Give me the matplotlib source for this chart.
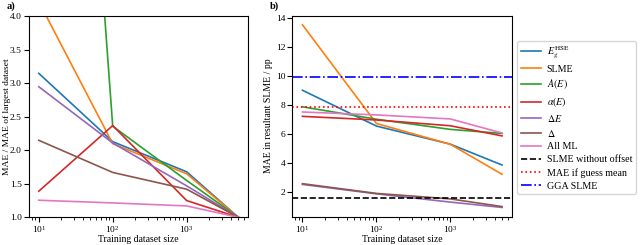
import matplotlib
matplotlib.use("Agg")
import matplotlib.pyplot as plt

plt.rcParams['font.family'] = ['Liberation Serif', 'DejaVu Serif']
plt.rcParams['mathtext.fontset'] = 'stix'
plt.rcParams['font.size'] = 7

sizes = [10, 100, 1000, 5000]
labels = [r'$E_g^{\rm HSE}$', 'SLME', r'$A(E)$', r'$\alpha(E)$',
          r'$\Delta E$', r'$\Delta$', 'All ML']
colors = ['tab:blue', 'tab:orange', 'tab:green', 'tab:red',
          'tab:purple', 'tab:brown', 'tab:pink']

# a) MAE relative to the largest training set
rel_gap = [3.15, 2.13, 1.68, 1.0]
rel_slme = [4.22, 2.10, 1.65, 1.0]
rel_abs = [17.5, 2.36, 1.55, 1.0]
rel_alpha = [1.39, 2.37, 1.25, 1.0]
rel_dgap = [2.95, 2.11, 1.47, 1.0]
rel_delta = [2.15, 1.67, 1.42, 1.0]
rel_all = [1.255, 1.215, 1.17, 1.0]

# b) MAE in resultant SLME (pp)
slme_gap = [9.0, 6.53, 5.28, 3.84]
slme_slme = [13.52, 6.71, 5.27, 3.2]
slme_abs = [7.86, 7.0, 6.3, 6.02]
slme_alpha = [7.2, 6.95, 6.55, 5.85]
slme_dgap = [2.5, 1.85, 1.28, 0.91]
slme_delta = [2.55, 1.88, 1.5, 0.97]
slme_all = [7.5, 7.3, 7.02, 6.05]
no_offset = 1.56
guess_mean = 7.87
gga_slme = 9.9

fig = plt.figure(figsize=(6.4, 2.45), dpi=100)
ax1 = fig.add_axes([0.045, 0.113, 0.343, 0.82])
ax2 = fig.add_axes([0.457, 0.116, 0.343, 0.82])

rel = [rel_gap, rel_slme, rel_abs, rel_alpha, rel_dgap, rel_delta, rel_all]
for vals, c in zip(rel, colors):
    ax1.plot(sizes, vals, color=c, lw=1.2)
ax1.set_xscale('log')
ax1.set_ylim(1.0, 4.0)
ax1.set_xlabel('Training dataset size', labelpad=0)
ax1.set_ylabel('MAE / MAE of largest dataset', fontsize=6.8)
ax1.yaxis.set_label_coords(-0.082, 0.5)

res = [slme_gap, slme_slme, slme_abs, slme_alpha, slme_dgap, slme_delta, slme_all]
for vals, c, lab in zip(res, colors, labels):
    ax2.plot(sizes, vals, color=c, lw=1.2, label=lab)
ax2.set_xscale('log')
ax2.axhline(no_offset, color='black', ls='--', lw=1.2, label='SLME without offset')
ax2.axhline(guess_mean, color='red', ls=':', lw=1.2, label='MAE if guess mean')
ax2.axhline(gga_slme, color='blue', ls='-.', lw=1.2, label='GGA SLME')
ax2.set_xlabel('Training dataset size', labelpad=0)
ax2.set_ylabel('MAE in resultant SLME / pp', labelpad=2)
ax2.legend(loc='upper left', bbox_to_anchor=(1.023, 0.874), borderaxespad=0,
           fontsize=7.2, handlelength=2.0, labelspacing=0.38, handletextpad=0.6,
           borderpad=0.35)

for ax in (ax1, ax2):
    ax.tick_params(labelsize=6.8, pad=1.5)

fig.text(0.01, 0.975, 'a)', fontweight='bold', fontsize=7.5, va='center')
fig.text(0.422, 0.975, 'b)', fontweight='bold', fontsize=7.5, va='center')

fig.savefig('out.png', dpi=100)
